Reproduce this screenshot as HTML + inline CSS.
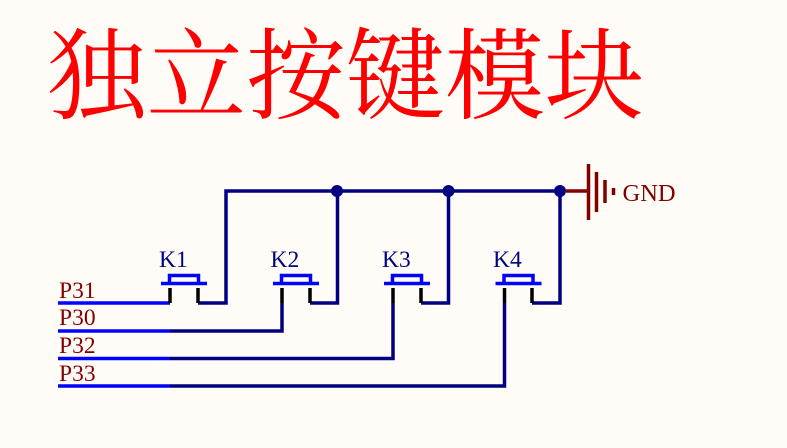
<!DOCTYPE html>
<html><head><meta charset="utf-8"><style>
html,body{margin:0;padding:0;background:#fffcf8}
svg{display:block}
text{font-family:"Liberation Serif",serif;font-size:24px}
</style></head><body>
<svg width="787" height="448" viewBox="0 0 787 448" xmlns="http://www.w3.org/2000/svg">
<rect width="787" height="448" fill="#fffcf8"/>
<text x="47" y="111" fill="#ff0000" style="font-family:'Noto Serif CJK SC','Liberation Serif',serif;font-size:99.500px;font-weight:400">独立按键模块</text>
<g fill="none" stroke="#000080" stroke-width="3.500">
<path d="M198 303H226V191H560"/>
<path d="M310 303H337.500V191"/>
<path d="M421 303H448.500V191"/>
<path d="M532 303H560V191"/>
<path d="M170 331H282V303"/>
<path d="M170 358.500H393V303"/>
<path d="M170 386H504.500V303"/>
</g>
<g fill="#000080"><circle cx="337" cy="191" r="6"/><circle cx="448.500" cy="191" r="6"/><circle cx="560" cy="191" r="6"/></g>
<g stroke="#0000ff" stroke-width="3.500" fill="none">
<path d="M58 303H170M58 331H170M58 358.500H170M58 386H170"/>
<path d="M161 283.500H207M169.500 283V275.500H198.500V283"/>
<path d="M273 283.500H319M281.500 283V275.500H310.500V283"/>
<path d="M384 283.500H430M392.500 283V275.500H421.500V283"/>
<path d="M495.500 283.500H541.500M504 283V275.500H533V283"/>
</g>
<g stroke="#000000" stroke-width="3.500">
<path d="M170 288V303M198 288V303M282 288V303M310 288V303M393 288V303M421 288V303M504.500 288V303M532 288V303"/>
</g>
<g stroke="#800000" fill="none" stroke-width="3.500">
<path d="M566 191H588"/>
<path d="M588.500 164V220M596.500 172V212M605 180V203"/>
<path d="M613.500 188V195"/>
</g>
<g fill="#000080" style="font-size:23.500px">
<text x="159" y="267" style="font-size:23.500px">K1</text><text x="270.500" y="267" style="font-size:23.500px">K2</text><text x="382" y="267" style="font-size:23.500px">K3</text><text x="493" y="267" style="font-size:23.500px">K4</text>
</g>
<g fill="#800000">
<text x="59" y="298" style="font-size:23.500px">P31</text><text x="59" y="325" style="font-size:23.500px">P30</text><text x="59" y="353" style="font-size:23.500px">P32</text><text x="59" y="381" style="font-size:23.500px">P33</text>
<text x="622.500" y="201" style="font-size:24.500px">GND</text>
</g>
</svg>
</body></html>
